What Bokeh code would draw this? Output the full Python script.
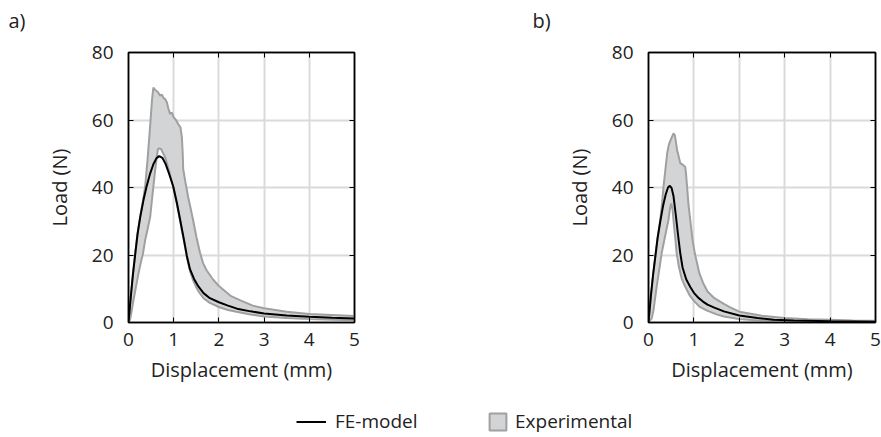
from bokeh.plotting import figure
from bokeh.models import (Range1d, FixedTicker, LinearAxis, Legend,
                          LegendItem, CustomJSTickFormatter)
from bokeh.layouts import column, row
from bokeh.embed import file_html
from bokeh.resources import INLINE

FONT = "Open Sans"
TXT = "#222222"
BAND_FILL = "#d3d4d6"
BAND_LINE = "#a0a0a0"
GRID = "#dadada"

x_ticks = [0, 1, 2, 3, 4, 5]
y_ticks = [0, 20, 40, 60, 80]
x_label = "Displacement (mm)"
y_label = "Load (N)"
panel_labels = ["a)", "b)"]
legend_labels = ["FE-model", "Experimental"]

# ---- panel a ----
a_fe_x = [0, 0.05, 0.1, 0.15, 0.2, 0.26, 0.33, 0.4, 0.48, 0.55, 0.62, 0.68, 0.75, 0.82, 0.9,
          0.99, 1.07, 1.14, 1.22, 1.29, 1.36, 1.45, 1.55, 1.66, 1.8, 2.0, 2.2, 2.4, 2.7, 3.0,
          3.5, 4.0, 4.5, 5.0]
a_fe_y = [0, 7.5, 14.5, 20.4, 26.2, 31.3, 36.2, 40.3, 44.2, 46.9, 48.7, 49.3, 48.8, 47.0, 44.0,
          40.3, 35.5, 30.6, 25.0, 19.8, 15.8, 12.9, 10.6, 8.7, 7.2, 6.0, 5.0, 4.1, 3.3, 2.7,
          2.1, 1.7, 1.4, 1.2]
a_up_x = [0, 0.05, 0.1, 0.15, 0.2, 0.26, 0.32, 0.37, 0.42, 0.48, 0.52, 0.55, 0.6, 0.65, 0.7,
          0.74, 0.77, 0.81, 0.85, 0.88, 0.92, 0.96, 1.0, 1.05, 1.1, 1.15, 1.18, 1.2, 1.21, 1.26,
          1.32, 1.38, 1.43, 1.5, 1.58, 1.65, 1.73, 1.88, 2.0, 2.27, 2.5, 2.75, 3.0, 3.5, 4.0,
          4.5, 5.0]
a_up_y = [0, 7.6, 14.6, 20.6, 26.4, 31.5, 36.0, 40.5, 48.0, 58.5, 66.0, 69.6, 68.8, 68.3, 67.2,
          67.5, 66.6, 66.2, 65.2, 63.5, 61.8, 62.2, 60.8, 60.0, 58.8, 57.8, 55.0, 50.0, 45.5, 41.5,
          37.2, 33.5, 30.3, 25.5, 20.8, 17.6, 15.4, 12.6, 10.8, 7.8, 6.4, 5.0, 4.2, 3.2, 2.5,
          2.2, 1.9]
a_lo_x = [0, 0.02, 0.04, 0.08, 0.11, 0.16, 0.22, 0.27, 0.32, 0.37, 0.42, 0.48, 0.52, 0.55, 0.59,
          0.62, 0.65, 0.68, 0.72, 0.75, 0.81, 0.9, 0.99, 1.07, 1.14, 1.2, 1.25, 1.3, 1.36, 1.43,
          1.5, 1.58, 1.66, 1.8, 2.0, 2.2, 2.39, 2.7, 3.0, 3.5, 4.0, 4.5, 5.0]
a_lo_y = [0, 0.4, 1.2, 4.2, 6.6, 10.2, 14.5, 17.6, 20.4, 24.5, 27.5, 31.3, 36.5, 40.2, 45.2,
          48.5, 51.3, 51.6, 51.4, 50.6, 49.0, 44.8, 40.2, 35.0, 30.3, 26.0, 22.5, 18.8, 15.3, 12.5,
          10.4, 8.6, 7.2, 5.8, 4.6, 3.7, 3.2, 2.4, 1.8, 1.3, 1.0, 0.8, 0.7]

# ---- panel b ----
b_fe_x = [0, 0.05, 0.1, 0.15, 0.2, 0.26, 0.32, 0.38, 0.43, 0.47, 0.51, 0.55, 0.6, 0.65, 0.7,
          0.75, 0.83, 0.92, 1.0, 1.1, 1.2, 1.3, 1.45, 1.66, 2.0, 2.4, 2.76, 3.2, 4.0, 5.0]
b_fe_y = [0, 7.5, 14.0, 19.5, 25.0, 30.0, 34.5, 38.0, 40.0, 40.5, 39.8, 37.5, 32.0, 26.0, 20.5,
          16.3, 12.8, 10.5, 8.8, 7.3, 6.2, 5.3, 4.4, 3.3, 2.1, 1.3, 0.8, 0.6, 0.4, 0.25]
b_up_x = [0, 0.05, 0.1, 0.15, 0.2, 0.26, 0.3, 0.33, 0.37, 0.41, 0.45, 0.5, 0.55, 0.58, 0.61,
          0.63, 0.66, 0.7, 0.75, 0.81, 0.83, 0.85, 0.88, 0.92, 0.97, 1.02, 1.12, 1.2, 1.3, 1.45,
          1.66, 1.8, 2.0, 2.5, 3.0, 3.5, 4.0, 4.5, 5.0]
b_up_y = [0, 7.6, 14.1, 19.6, 25.1, 30.4, 35.5, 40.2, 45.0, 50.0, 52.8, 54.5, 56.0, 55.5, 53.0,
          51.0, 49.5, 47.2, 46.8, 46.1, 43.5, 40.2, 35.0, 30.3, 24.5, 20.5, 14.6, 11.8, 9.2, 7.2,
          5.5, 4.5, 3.2, 2.0, 1.3, 1.0, 0.8, 0.6, 0.5]
b_lo_x = [0, 0.03, 0.07, 0.11, 0.18, 0.24, 0.29, 0.35, 0.4, 0.44, 0.47, 0.5, 0.53, 0.56, 0.59,
          0.62, 0.67, 0.73, 0.81, 0.9, 1.0, 1.13, 1.29, 1.5, 1.66, 2.0, 2.5, 3.0, 4.0, 5.0]
b_lo_y = [0, 0.5, 1.2, 3.6, 10.6, 16.0, 20.5, 24.5, 27.8, 30.4, 33.5, 35.3, 33.5, 29.0, 25.0,
          20.5, 16.5, 13.0, 10.6, 8.2, 6.4, 4.6, 3.5, 2.4, 1.8, 1.0, 0.55, 0.3, 0.15, 0.1]


def blank_axis(dim):
    ax = LinearAxis(ticker=FixedTicker(ticks=x_ticks if dim == "x" else y_ticks),
                    formatter=CustomJSTickFormatter(code="return ''"),
                    major_tick_in=5, major_tick_out=0, minor_tick_line_color=None,
                    axis_line_color="black", axis_line_width=1.5,
                    major_tick_line_color="black", major_label_standoff=0)
    return ax


def spacer_axis(gap):
    # invisible axis whose outward tick length only opens a gap between frame and title
    ax = LinearAxis(ticker=FixedTicker(ticks=x_ticks),
                    formatter=CustomJSTickFormatter(code="return ''"),
                    major_tick_in=0, major_tick_out=gap, minor_tick_line_color=None,
                    axis_line_alpha=0, major_tick_line_alpha=0, major_label_standoff=0)
    return ax


def make_panel(label, fe_x, fe_y, ux, uy, lx, ly, width, left, right, lab_off):
    p = figure(width=width, height=388, x_range=Range1d(0, 5), y_range=Range1d(0, 80),
               output_backend="svg", toolbar_location=None, title=label,
               min_border_left=left, min_border_right=right,
               min_border_top=52, min_border_bottom=66)
    p.title.align = "left"
    p.title.offset = lab_off
    p.title.standoff = 6
    p.title.text_font = FONT
    p.title.text_font_size = "20px"
    p.title.text_font_style = "normal"
    p.title.text_color = TXT
    p.background_fill_color = "white"
    p.border_fill_color = "white"
    p.outline_line_color = "black"
    p.outline_line_width = 1.5
    p.outline_line_alpha = 1.0

    p.xaxis.ticker = FixedTicker(ticks=x_ticks)
    p.yaxis.ticker = FixedTicker(ticks=y_ticks)
    p.xaxis.axis_label = x_label
    p.yaxis.axis_label = y_label
    for ax in (p.xaxis, p.yaxis):
        ax.major_tick_in = 5
        ax.major_tick_out = 0
        ax.minor_tick_line_color = None
        ax.axis_line_color = "black"
        ax.axis_line_width = 1.5
        ax.major_tick_line_color = "black"
        ax.major_label_text_font = FONT
        ax.major_label_text_font_size = "19px"
        ax.major_label_text_color = TXT
        ax.axis_label_text_font = FONT
        ax.axis_label_text_font_size = "20px"
        ax.axis_label_text_color = TXT
        ax.axis_label_text_font_style = "normal"
    p.xaxis.major_label_standoff = 10
    p.xaxis.axis_label_standoff = 7
    p.yaxis.major_label_standoff = 15
    p.yaxis.axis_label_standoff = 16

    p.add_layout(blank_axis("x"), "above")
    p.add_layout(spacer_axis(16), "above")
    p.add_layout(blank_axis("y"), "right")

    p.xgrid.ticker = FixedTicker(ticks=x_ticks)
    p.ygrid.ticker = FixedTicker(ticks=y_ticks)
    for g in (p.xgrid, p.ygrid):
        g.grid_line_color = GRID
        g.grid_line_width = 2

    px = list(ux) + list(lx)[::-1]
    py = list(uy) + list(ly)[::-1]
    p.patch(px, py, fill_color=BAND_FILL, line_color=BAND_LINE, line_width=2)
    p.line(fe_x, fe_y, line_color="black", line_width=2)
    return p


pa = make_panel(panel_labels[0], a_fe_x, a_fe_y, a_up_x, a_up_y, a_lo_x, a_lo_y,
                448, 128, 94, -120)
pb = make_panel(panel_labels[1], b_fe_x, b_fe_y, b_up_x, b_up_y, b_lo_x, b_lo_y,
                433, 200, 6, -116)

# legend strip (its renderers hold the panel-a data, kept outside the visible range)
pl = figure(width=881, height=49, x_range=Range1d(100, 101), y_range=Range1d(100, 101),
            output_backend="svg", toolbar_location=None,
            min_border_left=0, min_border_right=0, min_border_top=0, min_border_bottom=0)
pl.axis.visible = False
pl.grid.visible = False
pl.outline_line_color = None
lr = pl.line(a_fe_x, a_fe_y, line_color="black", line_width=2)
br = pl.patch(a_up_x, a_up_y, fill_color=BAND_FILL, line_color=BAND_LINE, line_width=2)

leg1 = Legend(items=[LegendItem(label=legend_labels[0], renderers=[lr])],
              location=(296, 3), glyph_width=30, glyph_height=21, label_standoff=9)
leg2 = Legend(items=[LegendItem(label=legend_labels[1], renderers=[br])],
              location=(487, 3), glyph_width=21, glyph_height=21, label_standoff=7)
for lg in (leg1, leg2):
    lg.padding = 0
    lg.margin = 0
    lg.border_line_color = None
    lg.background_fill_alpha = 0
    lg.label_text_font = FONT
    lg.label_text_font_size = "19px"
    lg.label_text_color = TXT
    lg.orientation = "horizontal"
    pl.add_layout(lg, "center")

layout = column(row(pa, pb), pl)
open("out.html", "w").write(file_html(layout, INLINE))
